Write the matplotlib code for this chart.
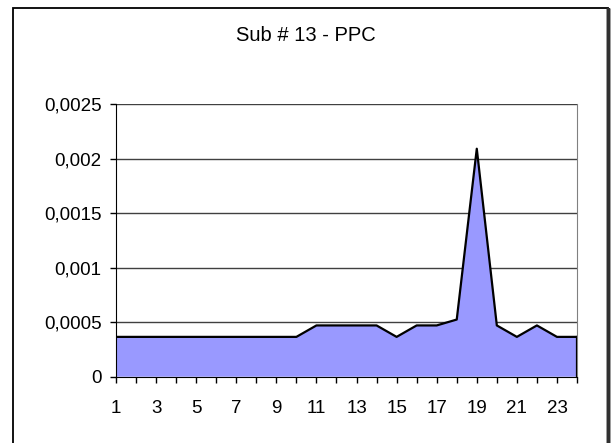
import matplotlib
matplotlib.use('Agg')
import matplotlib.pyplot as plt
from matplotlib.patches import Rectangle
from matplotlib.ticker import FuncFormatter

hours = list(range(1, 25))
ppc = [0.000365, 0.000365, 0.000365, 0.000365, 0.000365, 0.000365, 0.000365, 0.000365,
       0.000365, 0.000365, 0.00047, 0.00047, 0.00047, 0.00047, 0.000365, 0.00047,
       0.00047, 0.000524, 0.00209, 0.00047, 0.000365, 0.00047, 0.000365, 0.000365]
y_ticks = [0, 0.0005, 0.001, 0.0015, 0.002, 0.0025]
title = 'Sub # 13 - PPC'

plt.rcParams['font.family'] = ['Liberation Sans', 'DejaVu Sans']
FS = 13.5

fig = plt.figure(figsize=(6.12, 4.43), dpi=100)
# chart frame (bottom edge falls outside the picture)
fig.patches.append(Rectangle((13 / 612, -10 / 443), 595 / 612, 445 / 443,
                             transform=fig.transFigure, fill=False,
                             edgecolor='black', linewidth=1.3))
fig.patches.append(Rectangle((608 / 612, -10 / 443), 0, 445 / 443,
                             transform=fig.transFigure, fill=False,
                             edgecolor='#303030', linewidth=2.5))
ax = fig.add_axes([116 / 612, 1 - 376.7 / 443, 461 / 612, 272.7 / 443])

x = [h - 1 for h in hours]
ax.fill_between(x, ppc, 0, facecolor='#9999ff', edgecolor='none', zorder=2)
ax.plot(x, ppc, color='black', linewidth=1.6, zorder=3)
ax.plot([x[-1], x[-1]], [0, ppc[-1]], color='black', linewidth=1.6, zorder=3)

ax.set_xlim(0, 23)
ax.set_ylim(0, 0.0025)
ax.set_yticks(y_ticks)
ax.yaxis.set_major_formatter(FuncFormatter(lambda v, p: ('%g' % v).replace('.', ',')))
ax.set_xticks(x)
ax.set_xticklabels([str(h) if h % 2 == 1 else '' for h in hours])
ax.tick_params(axis='both', direction='out', length=4.5, width=1, labelsize=FS, pad=6)
ax.tick_params(axis='x', pad=12)

for t in y_ticks[1:]:
    ax.axhline(t, color='#404040', linewidth=1, zorder=1)

ax.spines['left'].set_color('black')
ax.spines['bottom'].set_color('black')
ax.spines['top'].set_visible(False)
ax.spines['right'].set_color('#808080')
ax.spines['bottom'].set_zorder(4)

fig.text(0.5, 1 - 35.5 / 443, title, ha='center', va='center', fontsize=14.5)

plt.savefig('out.png', dpi=100)
